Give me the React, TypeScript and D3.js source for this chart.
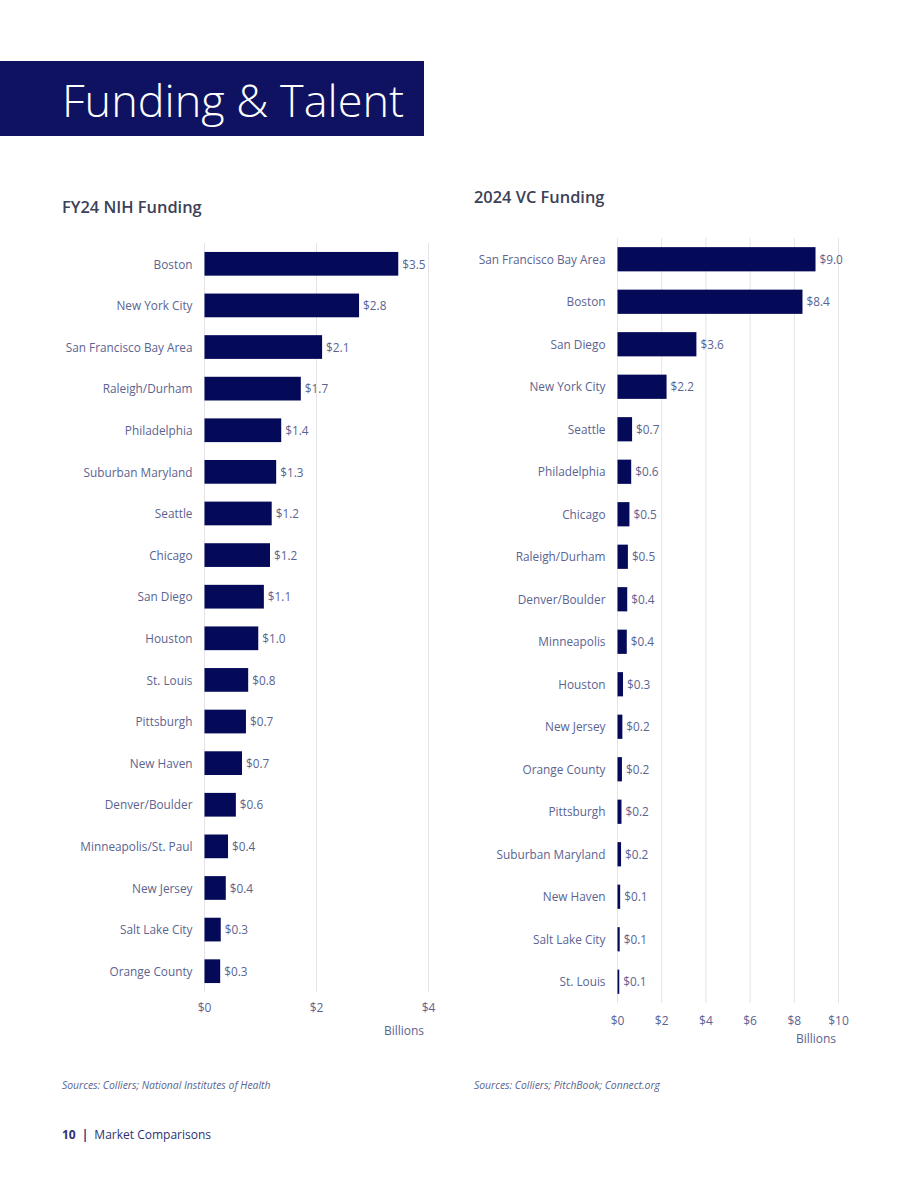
import React from "react";
import * as d3 from "d3";

const nihCities = ["Boston","New York City","San Francisco Bay Area","Raleigh/Durham","Philadelphia","Suburban Maryland","Seattle","Chicago","San Diego","Houston","St. Louis","Pittsburgh","New Haven","Denver/Boulder","Minneapolis/St. Paul","New Jersey","Salt Lake City","Orange County"];
const nihValues = [3.46,2.76,2.1,1.72,1.37,1.28,1.2,1.17,1.06,0.96,0.78,0.74,0.67,0.56,0.42,0.38,0.29,0.28];
const nihTicks = [0,2,4];

const vcCities = ["San Francisco Bay Area","Boston","San Diego","New York City","Seattle","Philadelphia","Chicago","Raleigh/Durham","Denver/Boulder","Minneapolis","Houston","New Jersey","Orange County","Pittsburgh","Suburban Maryland","New Haven","Salt Lake City","St. Louis"];
const vcValues = [8.96,8.37,3.57,2.22,0.66,0.62,0.54,0.47,0.44,0.42,0.25,0.22,0.2,0.18,0.16,0.12,0.1,0.08];
const vcTicks = [0,2,4,6,8,10];

const FONT = "'Open Sans', sans-serif";
const NAVY = "#040a58";
const LABEL = "#5b6491";
const GRID = "#e4e4e8";

type ChartProps = {
  cities: string[]; values: number[]; ticks: number[];
  x0: number; x1: number; dmax: number; y0: number; y1: number;
  tickY: number; billionsX: number; billionsY: number;
};

function BarChart(p: ChartProps) {
  const x = d3.scaleLinear().domain([0, p.dmax]).range([p.x0, p.x1]);
  const y = d3.scaleBand<string>().domain(p.cities).range([p.y0, p.y1]).paddingInner(0.43).paddingOuter(0.215);
  const fmt = (v: number) => "$" + v.toFixed(1);
  return (
    <g>
      {p.ticks.map(t => (
        <g key={t}>
          <line x1={x(t)} x2={x(t)} y1={p.y0} y2={p.y1} stroke={GRID} strokeWidth={1} />
          <text x={x(t)} y={p.tickY} textAnchor="middle" fontSize={12} fill={LABEL}>${t}</text>
        </g>
      ))}
      {p.cities.map((c, i) => {
        const yy = y(c)!;
        const bw = y.bandwidth();
        const xe = x(p.values[i]);
        return (
          <g key={c}>
            <rect x={x(0)} y={yy} width={xe - x(0)} height={bw} fill={NAVY} />
            <text x={x(0) - 12} y={yy + bw / 2} dy="0.4em" textAnchor="end" fontSize={11.8} fill={LABEL}>{c}</text>
            <text x={xe + 4} y={yy + bw / 2} dy="0.4em" fontSize={11.8} fill={LABEL}>{fmt(p.values[i])}</text>
          </g>
        );
      })}
      <text x={p.billionsX} y={p.billionsY} textAnchor="middle" fontSize={12} fill={LABEL}>Billions</text>
    </g>
  );
}

export default function App() {
  return (
    <div style={{ position: "absolute", left: 0, top: 0 }}>
      <svg width={920} height={1191} style={{ display: "block", fontFamily: FONT }}>
        <rect x={0} y={0} width={920} height={1191} fill="#ffffff" />
        <rect x={0} y={61} width={424} height={75} fill="#0e1260" />
        <text x={62} y={117} fontSize={45} fontWeight={300} fill="#ffffff">Funding &amp; Talent</text>

        <text x={62} y={213} fontSize={16.4} fontWeight={600} fill="#3b4157">FY24 NIH Funding</text>
        <text x={474} y={203} fontSize={16.4} fontWeight={600} fill="#3b4157">2024 VC Funding</text>

        <BarChart cities={nihCities} values={nihValues} ticks={nihTicks} x0={204.5} x1={428.5} dmax={4}
          y0={243} y1={992} tickY={1012} billionsX={404} billionsY={1035} />
        <BarChart cities={vcCities} values={vcValues} ticks={vcTicks} x0={617.5} x1={838.5} dmax={10}
          y0={238} y1={1003} tickY={1025} billionsX={816} billionsY={1043} />

        <text x={62} y={1089} fontSize={10.4} fontStyle="italic" fill={LABEL}>Sources: Colliers; National Institutes of Health</text>
        <text x={474} y={1089} fontSize={10.4} fontStyle="italic" fill={LABEL}>Sources: Colliers; PitchBook; Connect.org</text>

        <text x={62} y={1139} fontSize={12} fill="#2d3270">
          <tspan fontWeight={700}>10</tspan>
          <tspan dx={6} fontWeight={700}>|</tspan>
          <tspan dx={6}>Market Comparisons</tspan>
        </text>
      </svg>
    </div>
  );
}
